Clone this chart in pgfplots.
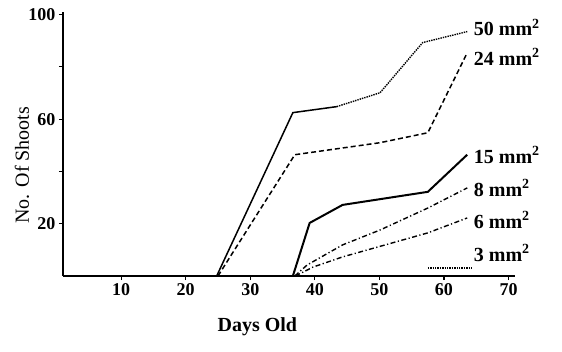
\documentclass[border=0pt]{standalone}
\usepackage{fontspec}
\setmainfont{Liberation Serif}
\usepackage{pgfplots}
\pgfplotsset{compat=1.18}
\begin{document}
\begin{tikzpicture}
\begin{axis}[
 scale only axis, width=452pt, height=264pt,
 xmin=1, xmax=71, ymin=0, ymax=101,
 axis lines=left, axis line style={line width=2.2pt, -},
 xtick={10,20,...,70}, ytick={20,40,60,80,100},
 yticklabels={20,,60,,100},
 tick align=outside, major tick length=4pt, tick style={line width=1.2pt, black},
 ticklabel style={font=\fontsize{18}{20}\selectfont\bfseries},
 /pgf/number format/assume math mode=true,
 xlabel={Days Old}, ylabel={No. Of Shoots},
 xlabel style={font=\fontsize{20}{22}\selectfont\bfseries, at={(axis description cs:0.43,0)}, anchor=center, yshift=-51pt},
 ylabel style={font=\fontsize{20}{22}\selectfont, at={([xshift=-41pt]axis description cs:0,0.42)}, anchor=center},
 clip=false,
]
\addplot[black, line width=1.5pt] coordinates {(24.8,0)(36.6,62.5)(43.4,64.8)};
\addplot[black, line width=1.4pt, densely dotted] coordinates {(43.4,64.8)(50.1,70.1)(56.7,89.3)(63.6,93.5)};
\addplot[black, line width=1.5pt, dash pattern=on 5pt off 3pt] coordinates {(25,0)(36.9,46.4)(50.1,51)(57.5,54.8)(63.6,85.4)};
\addplot[black, line width=2pt] coordinates {(36.6,0)(39.2,20.3)(44.3,27.2)(57.5,32.2)(63.6,46.4)};
\addplot[black, line width=1.4pt, dash pattern=on 5pt off 2.5pt on 1.2pt off 2.5pt] coordinates {(36.9,0)(38.8,4.2)(44.3,11.9)(50.1,17.6)(57.5,26)(63.6,33.7)};
\addplot[black, line width=1.4pt, dash pattern=on 5pt off 2.5pt on 1.2pt off 2.5pt] coordinates {(37,0)(39.7,3.4)(44.3,7.3)(57.5,16.5)(63.6,22.2)};
\addplot[black, line width=1.4pt, densely dotted] coordinates {(57.5,3)(64.5,3)};
\node[anchor=west, inner sep=0, font=\fontsize{20}{22}\selectfont\bfseries] at (axis cs:64.6,95) {50 mm\textsuperscript{2}};
\node[anchor=west, inner sep=0, font=\fontsize{20}{22}\selectfont\bfseries] at (axis cs:64.6,83.9) {24 mm\textsuperscript{2}};
\node[anchor=west, inner sep=0, font=\fontsize{20}{22}\selectfont\bfseries] at (axis cs:64.6,46.4) {15 mm\textsuperscript{2}};
\node[anchor=west, inner sep=0, font=\fontsize{20}{22}\selectfont\bfseries] at (axis cs:64.6,33.7) {8 mm\textsuperscript{2}};
\node[anchor=west, inner sep=0, font=\fontsize{20}{22}\selectfont\bfseries] at (axis cs:64.6,21.5) {6 mm\textsuperscript{2}};
\node[anchor=west, inner sep=0, font=\fontsize{20}{22}\selectfont\bfseries] at (axis cs:64.6,8.8) {3 mm\textsuperscript{2}};
\end{axis}
\pgfresetboundingbox
\path (-63pt,-75pt) rectangle (499pt,276pt);
\end{tikzpicture}
\end{document}
